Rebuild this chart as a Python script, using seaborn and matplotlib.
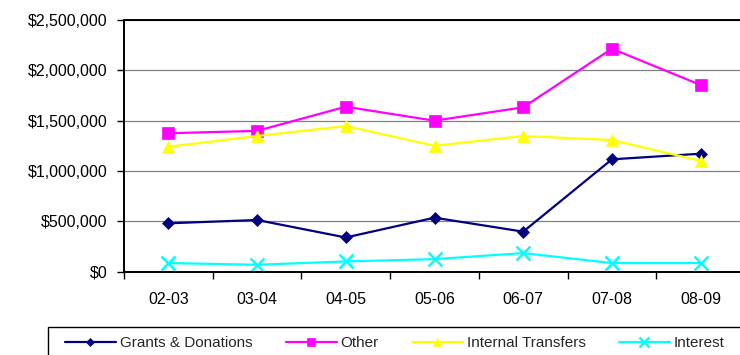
import matplotlib
matplotlib.use("Agg")
import matplotlib.pyplot as plt
from matplotlib.patches import Rectangle
from matplotlib.ticker import FixedLocator, FuncFormatter
import seaborn as sns
import pandas as pd

years = ["02-03", "03-04", "04-05", "05-06", "06-07", "07-08", "08-09"]
grants = [479000, 512000, 338000, 535000, 396000, 1115000, 1171000]
other = [1374000, 1398000, 1638000, 1499000, 1632000, 2215000, 1854000]
internal = [1240000, 1347000, 1446000, 1250000, 1347000, 1307000, 1100000]
interest = [84000, 67000, 100000, 123000, 183000, 84000, 84000]

series_names = ["Grants & Donations", "Other", "Internal Transfers", "Interest"]
series_values = [grants, other, internal, interest]
colors = ["#000080", "#FF00FF", "#FFFF00", "#00FFFF"]
markers = ["D", "s", "^", "x"]
marker_sizes = [6.0, 8.0, 8.7, 9.5]

sns.set_theme(style="white")
plt.rcParams["font.family"] = ["Liberation Sans", "DejaVu Sans"]

rows = []
for name, vals in zip(series_names, series_values):
    for yr, v in zip(years, vals):
        rows.append({"year": yr, "value": v, "series": name})
df = pd.DataFrame(rows)

fig = plt.figure(figsize=(7.4, 3.55), dpi=100)
W, H = 740, 355
left, right, top, bottom = 124, 745, 20, 271.5
ax = fig.add_axes([left / W, 1 - bottom / H, (right - left) / W, (bottom - top) / H])

for name, col, mk, ms in zip(series_names, colors, markers, marker_sizes):
    sub = df[df["series"] == name]
    sns.lineplot(data=sub, x="year", y="value", ax=ax, color=col, marker=mk,
                 markersize=ms, markeredgecolor=col, markerfacecolor=col,
                 markeredgewidth=1.8 if mk == "x" else 0.5, linewidth=1.6,
                 label=name, legend=False, sort=False)

ax.set_xlim(-0.5, len(years) - 0.5)
ax.set_ylim(0, 2500000)
ax.set_xlabel("")
ax.set_ylabel("")

# y axis: dollar ticks with horizontal gridlines
ax.yaxis.set_major_locator(FixedLocator([0, 500000, 1000000, 1500000, 2000000, 2500000]))
ax.yaxis.set_major_formatter(FuncFormatter(lambda v, p: "$" + format(int(v), ",")))
ax.grid(axis="y", color="#808080", linewidth=0.9)
ax.grid(axis="x", visible=False)
ax.tick_params(axis="y", which="major", left=True, length=5, width=1, color="black",
               pad=7, labelsize=11.5, labelcolor="black")

# x axis: tick marks between categories, labels centred on categories
ax.xaxis.set_major_locator(FixedLocator([i - 0.5 for i in range(len(years) + 1)]))
ax.xaxis.set_minor_locator(FixedLocator(list(range(len(years)))))
ax.xaxis.set_major_formatter(FuncFormatter(lambda v, p: ""))
ax.xaxis.set_minor_formatter(FuncFormatter(lambda v, p: years[int(round(v))]))
ax.tick_params(axis="x", which="major", bottom=True, length=5, width=1, color="black")
ax.tick_params(axis="x", which="minor", bottom=True, length=0, pad=15,
               labelsize=11.5, labelcolor="black")

for side in ["left", "bottom", "top"]:
    ax.spines[side].set_visible(True)
    ax.spines[side].set_color("black")
    ax.spines[side].set_linewidth(1.4)
ax.spines["right"].set_visible(False)

# legend frame running off the right and bottom edges
fig.patches.append(Rectangle((48 / W, -0.1), 0.99, 1.1 - 327 / H,
                             transform=fig.transFigure, fill=False,
                             edgecolor="black", linewidth=1.0))

handles, labels = ax.get_legend_handles_labels()
fs = 11.0
fs_px = fs * 100 / 72
leg = fig.legend(handles, labels, loc="upper left", ncol=4,
                 bbox_to_anchor=(58 / W, 1 - 329 / H),
                 frameon=False, fontsize=fs,
                 handlelength=51 / fs_px, handletextpad=4 / fs_px,
                 columnspacing=33 / fs_px, markerscale=0.7,
                 borderpad=0.45, borderaxespad=0)

fig.savefig("out.png", dpi=100)
